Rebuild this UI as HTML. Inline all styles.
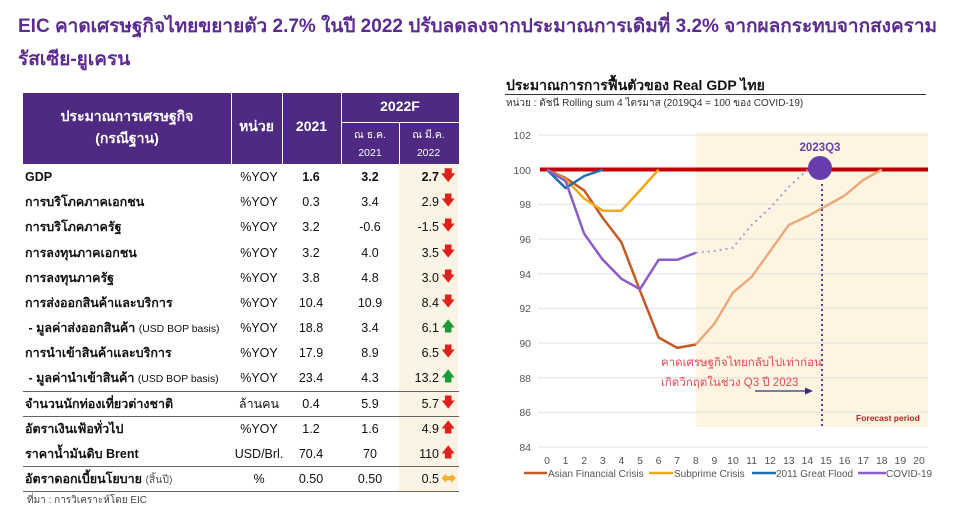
<!DOCTYPE html><html><head><meta charset="utf-8"><style>
body{margin:0;width:975px;height:522px;background:#fff;position:relative;overflow:hidden;font-family:"Liberation Sans","Noto Sans CJK SC",sans-serif;}
.a{position:absolute;white-space:nowrap;}
.t{color:#5B2C91;font-weight:bold;font-size:19px;}
.hd{background:#4F2A83;position:absolute;}
.hc{position:absolute;color:#fff;text-align:center;font-weight:bold;}
.r{position:absolute;left:23px;width:436px;height:25px;font-size:12.5px;color:#111;}
.r span{position:absolute;top:5px;line-height:15px;}
.r span.c1{top:5px;}
.c1{left:2px}.c2{left:208px;width:56px;text-align:center}.c3{left:258px;width:60px;text-align:center}.c4{left:318px;width:58px;text-align:center}.c5{left:376px;width:40px;text-align:right}
.ar{position:absolute;left:418px;top:4px!important;font-size:14px;line-height:15px!important;font-family:"DejaVu Sans",sans-serif;}
</style></head><body>
<div class="a t" style="left:18px;top:11px">EIC คาดเศรษฐกิจไทยขยายตัว 2.7% ในปี 2022 ปรับลดลงจากประมาณการเดิมที่ 3.2% จากผลกระทบจากสงคราม</div>
<div class="a t" style="left:18px;top:44px">รัสเซีย-ยูเครน</div>

<div class="hd" style="left:23px;top:93px;width:436px;height:71px"></div>
<div style="position:absolute;left:399px;top:164px;width:59px;height:328px;background:#FBF4E4"></div>
<div style="position:absolute;left:231px;top:93px;width:1px;height:71px;background:#fff"></div>
<div style="position:absolute;left:282px;top:93px;width:1px;height:71px;background:#fff"></div>
<div style="position:absolute;left:341px;top:93px;width:1px;height:71px;background:#fff"></div>
<div style="position:absolute;left:399px;top:122px;width:1px;height:42px;background:#fff"></div>
<div style="position:absolute;left:341px;top:122px;width:118px;height:1px;background:#fff"></div>
<div class="hc" style="left:23px;top:105px;width:208px;font-size:14px;line-height:22px">ประมาณการเศรษฐกิจ<br>(กรณีฐาน)</div>
<div class="hc" style="left:231px;top:116px;width:51px;font-size:14px">หน่วย</div>
<div class="hc" style="left:282px;top:118px;width:59px;font-size:14px">2021</div>
<div class="hc" style="left:341px;top:98px;width:118px;font-size:14px">2022F</div>
<div class="hc" style="left:341px;top:126px;width:58px;font-size:10.5px;font-weight:normal;line-height:18px">ณ ธ.ค.<br>2021</div>
<div class="hc" style="left:399px;top:126px;width:59px;font-size:10.5px;font-weight:normal;line-height:18px">ณ มี.ค.<br>2022</div>

<div class="r" style="top:165px;font-weight:bold"><span class="c1" style="top:5px">GDP</span><span class="c2" style="font-weight:normal">%YOY</span><span class="c3">1.6</span><span class="c4">3.2</span><span class="c5">2.7</span><span class="ar" style="color:#E0201C">🡇</span></div>
<div class="r" style="top:190px"><span class="c1" style="font-weight:bold">การบริโภคภาคเอกชน</span><span class="c2">%YOY</span><span class="c3">0.3</span><span class="c4">3.4</span><span class="c5">2.9</span><span class="ar" style="color:#E0201C">🡇</span></div>
<div class="r" style="top:215px"><span class="c1" style="font-weight:bold">การบริโภคภาครัฐ</span><span class="c2">%YOY</span><span class="c3">3.2</span><span class="c4">-0.6</span><span class="c5">-1.5</span><span class="ar" style="color:#E0201C">🡇</span></div>
<div class="r" style="top:241px"><span class="c1" style="font-weight:bold">การลงทุนภาคเอกชน</span><span class="c2">%YOY</span><span class="c3">3.2</span><span class="c4">4.0</span><span class="c5">3.5</span><span class="ar" style="color:#E0201C">🡇</span></div>
<div class="r" style="top:266px"><span class="c1" style="font-weight:bold">การลงทุนภาครัฐ</span><span class="c2">%YOY</span><span class="c3">3.8</span><span class="c4">4.8</span><span class="c5">3.0</span><span class="ar" style="color:#E0201C">🡇</span></div>
<div class="r" style="top:291px"><span class="c1" style="font-weight:bold">การส่งออกสินค้าและบริการ</span><span class="c2">%YOY</span><span class="c3">10.4</span><span class="c4">10.9</span><span class="c5">8.4</span><span class="ar" style="color:#E0201C">🡇</span></div>
<div class="r" style="top:316px"><span class="c1"><b>&nbsp;- มูลค่าส่งออกสินค้า</b> <small>(USD BOP basis)</small></span><span class="c2">%YOY</span><span class="c3">18.8</span><span class="c4">3.4</span><span class="c5">6.1</span><span class="ar" style="color:#1A9A3A">🡅</span></div>
<div class="r" style="top:341px"><span class="c1" style="font-weight:bold">การนำเข้าสินค้าและบริการ</span><span class="c2">%YOY</span><span class="c3">17.9</span><span class="c4">8.9</span><span class="c5">6.5</span><span class="ar" style="color:#E0201C">🡇</span></div>
<div class="r" style="top:366px"><span class="c1"><b>&nbsp;- มูลค่านำเข้าสินค้า</b> <small>(USD BOP basis)</small></span><span class="c2">%YOY</span><span class="c3">23.4</span><span class="c4">4.3</span><span class="c5">13.2</span><span class="ar" style="color:#1A9A3A">🡅</span></div>
<div class="r" style="top:392px"><span class="c1" style="font-weight:bold">จำนวนนักท่องเที่ยวต่างชาติ</span><span class="c2" style="top:5px">ล้านคน</span><span class="c3">0.4</span><span class="c4">5.9</span><span class="c5">5.7</span><span class="ar" style="color:#E0201C">🡇</span></div>
<div class="r" style="top:417px"><span class="c1" style="font-weight:bold">อัตราเงินเฟ้อทั่วไป</span><span class="c2">%YOY</span><span class="c3">1.2</span><span class="c4">1.6</span><span class="c5">4.9</span><span class="ar" style="color:#E0201C">🡅</span></div>
<div class="r" style="top:442px"><span class="c1" style="font-weight:bold">ราคาน้ำมันดิบ Brent</span><span class="c2">USD/Brl.</span><span class="c3">70.4</span><span class="c4">70</span><span class="c5">110</span><span class="ar" style="color:#E0201C">🡅</span></div>
<div class="r" style="top:467px"><span class="c1"><b>อัตราดอกเบี้ยนโยบาย</b> <small style="color:#555">(สิ้นปี)</small></span><span class="c2">%</span><span class="c3">0.50</span><span class="c4">0.50</span><span class="c5">0.5</span><span class="ar" style="color:#F4B030;font-size:19px">⬌</span></div>
<div style="position:absolute;left:23px;top:391px;width:436px;height:1px;background:#666"></div>
<div style="position:absolute;left:23px;top:416px;width:436px;height:1px;background:#666"></div>
<div style="position:absolute;left:23px;top:466px;width:436px;height:1px;background:#666"></div>
<div style="position:absolute;left:23px;top:491px;width:436px;height:1px;background:#666"></div>
<div class="a" style="left:27px;top:493px;font-size:10px;color:#444">ที่มา : การวิเคราะห์โดย EIC</div>

<svg style="position:absolute;left:0;top:0" width="975" height="522" font-family="Liberation Sans, Noto Sans CJK SC, sans-serif">
<text x="506" y="90" font-size="14" font-weight="bold" fill="#111">ประมาณการการฟื้นตัวของ Real GDP ไทย</text>
<line x1="505" y1="94.5" x2="926" y2="94.5" stroke="#333"/>
<text x="506" y="106" font-size="10" fill="#333">หน่วย : ดัชนี Rolling sum 4 ไตรมาส (2019Q4 = 100 ของ COVID-19)</text>
<rect x="696" y="132" width="232" height="295" fill="#FDF5E2"/>
<g stroke="#E3E3E3" stroke-width="1">
<line x1="538" y1="135" x2="928" y2="135"/><line x1="538" y1="169.7" x2="928" y2="169.7"/><line x1="538" y1="204.3" x2="928" y2="204.3"/><line x1="538" y1="239" x2="928" y2="239"/><line x1="538" y1="273.7" x2="928" y2="273.7"/><line x1="538" y1="308.3" x2="928" y2="308.3"/><line x1="538" y1="343" x2="928" y2="343"/><line x1="538" y1="377.7" x2="928" y2="377.7"/><line x1="538" y1="412.3" x2="928" y2="412.3"/><line x1="538" y1="447" x2="928" y2="447"/></g>
<g font-size="10.5" fill="#555" text-anchor="end">
<text x="531" y="139">102</text><text x="531" y="174">100</text><text x="531" y="208">98</text><text x="531" y="243">96</text><text x="531" y="278">94</text><text x="531" y="312">92</text><text x="531" y="347">90</text><text x="531" y="382">88</text><text x="531" y="416">86</text><text x="531" y="451">84</text></g>
<g font-size="10.5" fill="#555" text-anchor="middle">
<text x="547" y="464">0</text><text x="565.6" y="464">1</text><text x="584.2" y="464">2</text><text x="602.8" y="464">3</text><text x="621.4" y="464">4</text><text x="640" y="464">5</text><text x="658.6" y="464">6</text><text x="677.2" y="464">7</text><text x="695.8" y="464">8</text><text x="714.4" y="464">9</text><text x="733" y="464">10</text><text x="751.6" y="464">11</text><text x="770.2" y="464">12</text><text x="788.8" y="464">13</text><text x="807.4" y="464">14</text><text x="826" y="464">15</text><text x="844.6" y="464">16</text><text x="863.2" y="464">17</text><text x="881.8" y="464">18</text><text x="900.4" y="464">19</text><text x="919" y="464">20</text></g>
<line x1="540" y1="169.5" x2="928" y2="169.5" stroke="#C00000" stroke-width="4"/>
<g fill="none" stroke-width="2.5" stroke-linejoin="round">
<polyline stroke="#C55A24" points="547,169.7 565.6,178 584.2,190.4 602.8,218 621.4,242.3 640,290.7 658.6,337.5 677.2,347.9 695.8,344.5"/>
<polyline stroke="#EBAA7C" points="695.8,344.5 714.4,323.7 733,292.5 751.6,276.9 770.2,251 788.8,225 807.4,216.3 826,206 844.6,195.6 863.2,180 881.8,169.7"/>
<polyline stroke="#F2A917" points="547,169.7 565.6,179.4 584.2,198.5 602.8,210.7 621.4,210.7 640,190.4 658.6,169.7"/>
<polyline stroke="#1E6FB0" points="547,169.7 565.6,188.1 584.2,176 602.8,169.7"/>
<polyline stroke="#8D5CC8" points="547,169.7 565.6,181.1 584.2,233.8 602.8,259.8 621.4,278.8 640,289.2 658.6,259.8 677.2,259.8 695.8,252.8"/>
<polyline stroke="#B59ACB" stroke-width="2" stroke-dasharray="2,4" points="695.8,252.8 714.4,251 733,247.7 751.6,225 770.2,207.8 788.8,187 807.4,169.7"/>
</g>
<line x1="822" y1="184" x2="822" y2="427" stroke="#6A3A9C" stroke-width="2" stroke-dasharray="2,3"/>
<circle cx="820" cy="168" r="12" fill="#6A3DAD"/>
<text x="820" y="151" font-size="11.5" font-weight="bold" fill="#6A3DAD" text-anchor="middle">2023Q3</text>
<text x="661" y="366" font-size="11.5" fill="#E84855">คาดเศรษฐกิจไทยกลับไปเท่าก่อน</text>
<text x="661" y="386" font-size="11.5" fill="#E84855">เกิดวิกฤตในช่วง Q3 ปี 2023</text>
<line x1="755" y1="391" x2="808" y2="391" stroke="#3A2A80" stroke-width="1.3"/><polygon points="813,391 805,387.5 805,394.5" fill="#3A2A80"/>
<text x="856" y="421" font-size="8.5" font-weight="bold" fill="#C0202A">Forecast period</text>
<g font-size="10" fill="#555">
<line x1="524" y1="473" x2="547" y2="473" stroke="#C55A24" stroke-width="2.5"/><text x="548" y="477">Asian Financial Crisis</text>
<line x1="649" y1="473" x2="673" y2="473" stroke="#F2A917" stroke-width="2.5"/><text x="674" y="477">Subprime Crisis</text>
<line x1="752" y1="473" x2="776" y2="473" stroke="#1E6FB0" stroke-width="2.5"/><text x="776" y="477">2011 Great Flood</text>
<line x1="858" y1="473" x2="886" y2="473" stroke="#8D5CC8" stroke-width="2.5"/><text x="886" y="477">COVID-19</text>
</g>
</svg>
</body></html>
